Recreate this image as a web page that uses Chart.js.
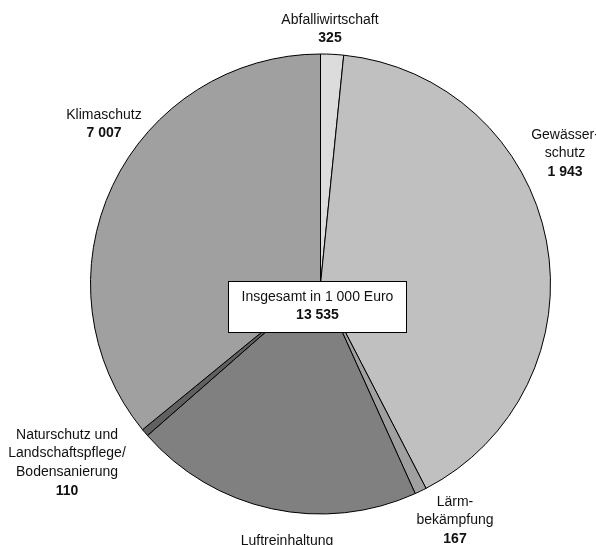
<!DOCTYPE html>
<html lang="de">
<head>
<meta charset="utf-8">
<title>Umweltschutzausgaben</title>
<script src="https://cdn.jsdelivr.net/npm/chart.js@4/dist/chart.umd.min.js"></script>
<style>
    body { margin: 0; background: #fff; }
    #wrap { width: 596px; height: 545px; }
</style>
</head>
<body>
<div id="wrap"><canvas id="chartUmwelt" width="596" height="545"></canvas></div>
<script>
// ====== DATEN ======
const categories = ['Abfalliwirtschaft', 'Gewässerschutz', 'Lärmbekämpfung', 'Luftreinhaltung',
    'Naturschutz und Landschaftspflege/Bodensanierung', 'Klimaschutz'];
// Anteile der Segmente, wie sie im Bild gezeichnet sind (in %)
const sliceShares = [1.61, 40.81, 0.83, 20.31, 0.53, 35.92];
// Beschriftete Werte in 1 000 Euro
const labelValues = ['325', '1 943', '167', '3 983', '110', '7 007'];
const totalLabel = 'Insgesamt in 1 000 Euro';
const totalValue = '13 535';

const sliceColors = ['#dcdcdc', '#c0c0c0', '#a0a0a0', '#808080', '#606060', '#a0a0a0'];

// Beschriftungen: Zeilen und Lage (Mitte x, erste Zeile y)
const labelLines = [
    ['Abfalliwirtschaft'],
    ['Gewässer-', 'schutz'],
    ['Lärm-', 'bekämpfung'],
    ['Luftreinhaltung'],
    ['Naturschutz und', 'Landschaftspflege/', 'Bodensanierung'],
    ['Klimaschutz']
];
const labelPos = [[330, 20], [565, 135], [455, 502], [287, 541], [67, 435], [104, 115]];

const FONT = '"Liberation Sans", Arial, sans-serif';
const LINE = 18.6;

// ====== BESCHRIFTUNGS-PLUGIN ======
const labelPlugin = {
    id: 'labelPlugin',
    afterDraw(chart) {
        const ctx = chart.ctx;
        ctx.save();
        ctx.fillStyle = '#111';
        ctx.textAlign = 'center';
        ctx.textBaseline = 'middle';

        labelLines.forEach((lines, i) => {
            const [x, y] = labelPos[i];
            ctx.font = '14px ' + FONT;
            lines.forEach((t, j) => ctx.fillText(t, x, y + j * LINE));
            ctx.font = 'bold 14px ' + FONT;
            ctx.fillText(labelValues[i], x, y + lines.length * LINE);
        });

        // Kasten in der Mitte
        ctx.fillStyle = '#fff';
        ctx.fillRect(228.5, 281.5, 178, 51);
        ctx.strokeStyle = '#000';
        ctx.lineWidth = 1;
        ctx.strokeRect(228.5, 281.5, 178, 51);
        ctx.fillStyle = '#111';
        ctx.font = '14px ' + FONT;
        ctx.fillText(totalLabel, 317.5, 297);
        ctx.font = 'bold 14px ' + FONT;
        ctx.fillText(totalValue, 317.5, 315.5);
        ctx.restore();
    }
};

// ====== DIAGRAMM ======
document.addEventListener('DOMContentLoaded', () => {
    const ctx = document.getElementById('chartUmwelt').getContext('2d');
    new Chart(ctx, {
        type: 'pie',
        data: {
            labels: categories,
            datasets: [{
                data: sliceShares,
                backgroundColor: sliceColors,
                borderColor: '#000',
                borderWidth: 1
            }]
        },
        options: {
            responsive: false,
            animation: false,
            layout: { padding: { left: 90, right: 45, top: 53.5, bottom: 30.5 } },
            plugins: {
                legend: { display: false },
                tooltip: { enabled: false }
            }
        },
        plugins: [labelPlugin]
    });
});
</script>
</body>
</html>
